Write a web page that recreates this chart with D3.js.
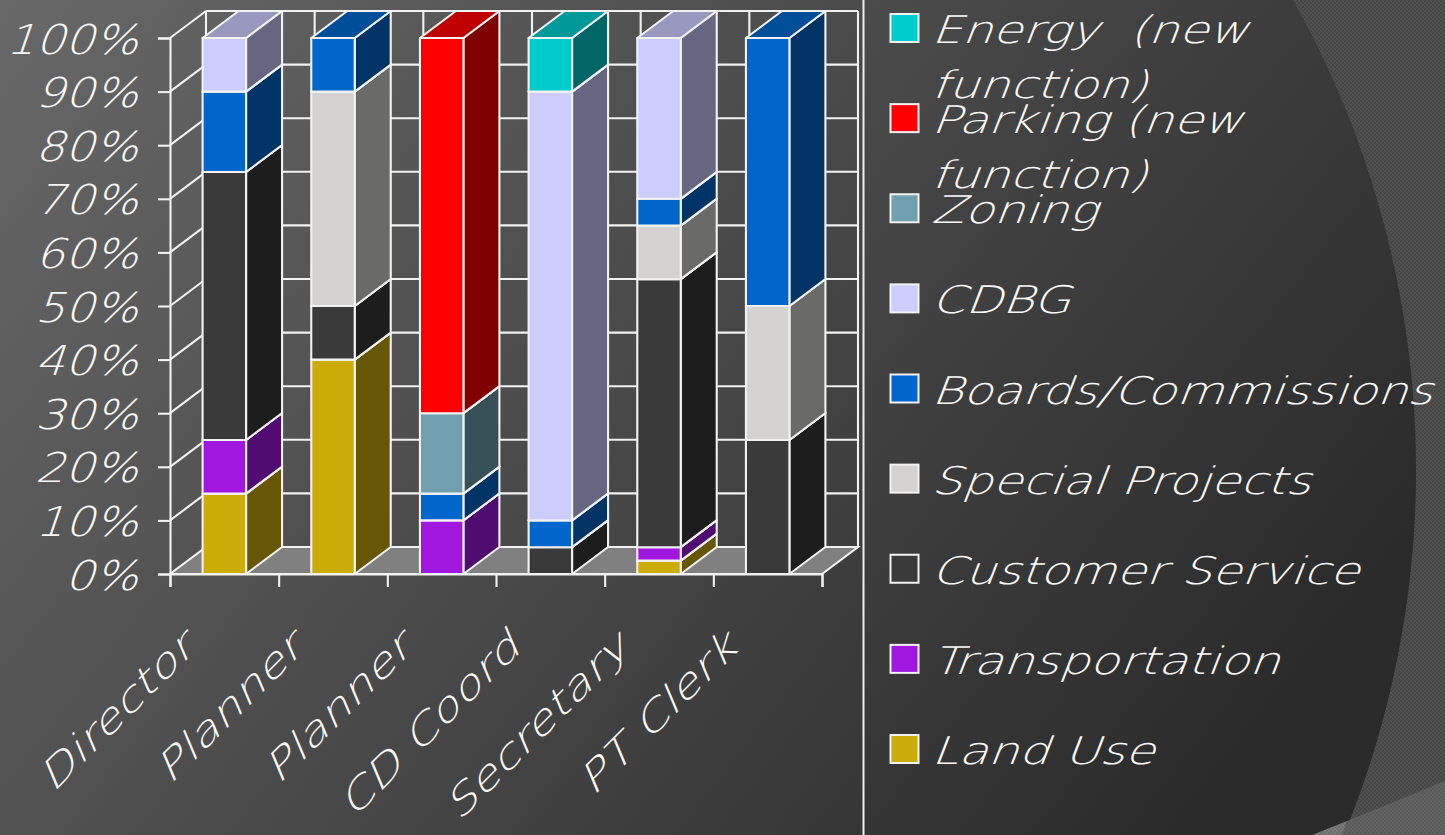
<!DOCTYPE html>
<html><head><meta charset="utf-8">
<script src="https://cdn.jsdelivr.net/npm/d3@7"></script>
<style>html,body{margin:0;padding:0;background:#333;overflow:hidden}svg{display:block}
text{font-family:"DejaVu Sans ExtraLight","DejaVu Sans",sans-serif;font-style:normal;font-weight:200;fill:#f8f8f8}</style>
</head><body><svg id="c" width="1445" height="835"></svg>
<script>
const categories=["Director","Planner","Planner","CD Coord","Secretary","PT Clerk"];
const seriesNames=["Land Use","Transportation","Customer Service","Special Projects","Boards/Commissions","CDBG","Zoning","Parking (new function)","Energy  (new function)"];
const seriesColors=["#CCAC09","#A018E0","#3A3A3A","#D4D3D1","#0066CC","#CCCCFF","#70A0B0","#FF0000","#00CCCC"];
const landUse=[15,40,0,0,2.5,0];
const transportation=[10,0,10,0,2.5,0];
const customerService=[50,10,0,5,50,25];
const specialProjects=[0,40,0,0,10,25];
const boards=[15,10,5,5,5,50];
const cdbg=[10,0,0,80,30,0];
const zoning=[0,0,15,0,0,0];
const parking=[0,0,70,0,0,0];
const energy=[0,0,0,10,0,0];
const yTicks=[0,10,20,30,40,50,60,70,80,90,100];
const legendLines=[["Energy  (new","function)"],["Parking (new","function)"],["Zoning"],["CDBG"],["Boards/Commissions"],["Special Projects"],["Customer Service"],["Transportation"],["Land Use"]];

const allSeries=[landUse,transportation,customerService,specialProjects,boards,cdbg,zoning,parking,energy];
const rows=categories.map((c,i)=>{const r={i};allSeries.forEach((s,k)=>r[k]=s[i]);return r;});
const stacked=d3.stack().keys(allSeries.map((_,k)=>k))(rows);

const svg=d3.select("#c");
const defs=svg.append("defs");
const grad=defs.append("linearGradient").attr("id","bg").attr("gradientUnits","userSpaceOnUse")
 .attr("x1",0).attr("y1",0).attr("x2",1150).attr("y2",900);
grad.append("stop").attr("offset",0).attr("stop-color","#686868");
grad.append("stop").attr("offset",1).attr("stop-color","#2a2a2a");
const mk=(id,base,dot)=>{const p=defs.append("pattern").attr("id",id).attr("patternUnits","userSpaceOnUse").attr("width",4).attr("height",4);
 p.append("rect").attr("width",4).attr("height",4).attr("fill",base);
 p.append("circle").attr("cx",1).attr("cy",1).attr("r",1).attr("fill",dot);
 p.append("circle").attr("cx",3).attr("cy",3).attr("r",1).attr("fill",dot);};
mk("p1","#505050","#434343");mk("p2","#626262","#575757");mk("p3","#7a7a7a","#686868");

svg.append("rect").attr("width",1445).attr("height",835).attr("fill","url(#bg)");
svg.append("path").attr("fill","url(#p1)").attr("d",()=>{
  const cx=457,cy=470,r=959,pts=d3.range(0,836,5).map(y=>[cx+Math.sqrt(r*r-(y-cy)*(y-cy)),y]);
  return "M"+pts.join("L")+"L1445,835L1445,0Z";});
svg.append("path").attr("fill","url(#p2)").attr("d","M1347,821L1445,781L1445,835L1338,835Z");
svg.append("path").attr("fill","url(#p3)").attr("d","M1312,835L1347,821L1342,835Z");
svg.append("line").attr("x1",863.5).attr("x2",863.5).attr("y1",0).attr("y2",835).attr("stroke","#eee").attr("stroke-width",2);

const WHITE="#f2f2f2", DX=36, DY=-27, SW=2.1, SKEW=-17;
const x=d3.scaleBand().domain(d3.range(categories.length)).range([170,822]).paddingInner(0.6).paddingOuter(0.3);
const xEdge=d3.scalePoint().domain(d3.range(categories.length+1)).range([170,822]);
const y=d3.scaleLinear().domain([0,100]).range([574,38]);
const g=svg.append("g");
const line=(a,b,c,d)=>g.append("line").attr("x1",a).attr("y1",b).attr("x2",c).attr("y2",d).attr("stroke",WHITE).attr("stroke-width",SW);
const x0=xEdge(0),x1=xEdge(categories.length);
g.append("polygon").attr("points",[[x0,y(0)],[x1,y(0)],[x1+DX,y(0)+DY],[x0+DX,y(0)+DY]].join(" ")).attr("fill","#808080").attr("stroke",WHITE).attr("stroke-width",SW);
yTicks.filter(t=>t>0).forEach(t=>{line(x0,y(t),x0+DX,y(t)+DY);});
yTicks.forEach(t=>{line(x0+DX,y(t)+DY,x1+DX,y(t)+DY);});
d3.range(categories.length+1).forEach(i=>line(xEdge(i)+DX,y(0)+DY,xEdge(i)+DX,y(100)+DY));
const ya=g.append("g").attr("transform",`translate(${x0},0)`).call(d3.axisLeft(y).tickValues(yTicks).tickSize(12).tickPadding(30).tickFormat(d=>d+"%"));
ya.select(".domain").attr("stroke",WHITE).attr("stroke-width",SW);
ya.selectAll("line").attr("stroke",WHITE).attr("stroke-width",SW);
ya.selectAll("text").attr("font-size",41).attr("font-family",null).attr("dy",15).attr("x",0)
  .attr("transform",`translate(-27,0) scale(1.13,1) skewX(${SKEW})`);
const xa=g.append("g").attr("transform",`translate(0,${y(0)})`).call(d3.axisBottom(xEdge).tickSize(13).tickFormat(""));
xa.select(".domain").attr("stroke",WHITE).attr("stroke-width",SW);
xa.selectAll("line").attr("stroke",WHITE).attr("stroke-width",SW);
g.append("g").selectAll("text").data(categories).join("text")
 .attr("text-anchor","end").attr("font-size",38)
 .attr("transform",(d,i)=>`translate(${x(i)+x.bandwidth()/2-28},${650}) rotate(-45) scale(1.33,1) skewX(${SKEW})`).text(d=>d);
const bw=x.bandwidth();
const bars=g.append("g").attr("stroke",WHITE).attr("stroke-width",SW).attr("stroke-linejoin","round");
categories.forEach((c,i)=>{
  stacked.forEach((s,k)=>{
    const [a,b]=s[i]; if(b-a<=0) return;
    const col=d3.color(seriesColors[k]);
    const sh=f=>d3.rgb(col.r*f,col.g*f,col.b*f);
    const l=x(i),r=l+bw,t=y(b),bt=y(a);
    bars.append("polygon").attr("fill",sh(.5)).attr("points",[[r,bt],[r+DX,bt+DY],[r+DX,t+DY],[r,t]].join(" "));
    bars.append("polygon").attr("fill",sh(.75)).attr("points",[[l,t],[r,t],[r+DX,t+DY],[l+DX,t+DY]].join(" "));
    bars.append("rect").attr("fill",col).attr("x",l).attr("y",t).attr("width",bw).attr("height",bt-t);
  });
});
const legendColors=seriesColors.slice().reverse();
const ly=d3.scaleLinear().domain([0,8]).range([28,749]);
const lg=svg.append("g");
legendLines.forEach((ls,i)=>{
  lg.append("rect").attr("x",890.5).attr("y",ly(i)-14).attr("width",28).attr("height",28).attr("fill",legendColors[i]).attr("stroke",WHITE).attr("stroke-width",2);
  ls.forEach((t,j)=>{
    lg.append("text").attr("font-size",38).style("white-space","pre")
      .attr("transform",`translate(931,${ly(i)+15+j*55}) scale(1.27,1) skewX(${SKEW})`).text(t);
  });
});
</script></body></html>
